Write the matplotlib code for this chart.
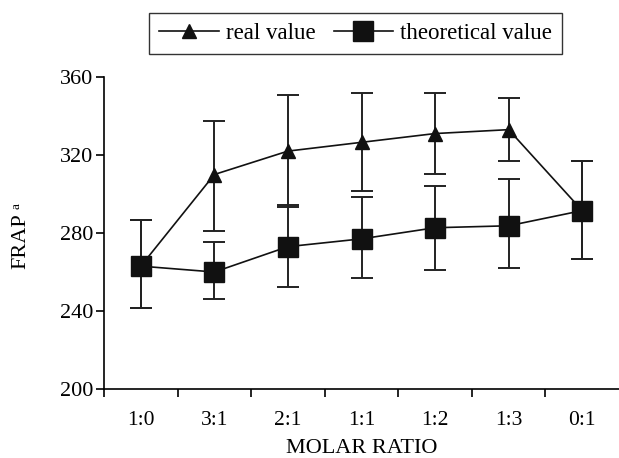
import matplotlib
matplotlib.use("Agg")
import matplotlib.pyplot as plt
import numpy as np

categories = ["1:0", "3:1", "2:1", "1:1", "1:2", "1:3", "0:1"]
real_value = [263, 310, 322, 326.5, 331, 333, 291.5]
real_upper = [286.5, 337.5, 351, 352, 352, 349, 317]
real_lower = [241.5, 281, 293.5, 301.5, 310.5, 317, 266.5]
theo_value = [263, 260, 273, 277, 282.7, 283.7, 291.5]
theo_upper = [286.5, 275.5, 294.5, 298.5, 304, 307.5, 317]
theo_lower = [241.5, 246, 252.5, 257, 261, 262.2, 266.5]
yticks = [200, 240, 280, 320, 360]

plt.rcParams['font.family'] = ['Liberation Serif', 'DejaVu Serif']
plt.rcParams['font.size'] = 16

fig = plt.figure(figsize=(6.19, 4.58), dpi=100)
ax = fig.add_axes([104/619, 69/458, 515/619, 312/458])

x = np.arange(len(categories))
rv = np.array(real_value); tv = np.array(theo_value)
real_err = [rv - np.array(real_lower), np.array(real_upper) - rv]
theo_err = [tv - np.array(theo_lower), np.array(theo_upper) - tv]

c = '#111111'
ax.errorbar(x, real_value, yerr=real_err, color=c, ecolor='#222222', elinewidth=1.4,
            capsize=8, capthick=1.4, lw=1.2, marker='^', ms=10, mfc=c, mec=c,
            label='real value', zorder=3)
ax.errorbar(x, theo_value, yerr=theo_err, color=c, ecolor='#222222', elinewidth=1.4,
            capsize=8, capthick=1.4, lw=1.2, marker='s', ms=14.5, mfc=c, mec=c,
            label='theoretical value', zorder=4)

ax.set_xlim(-0.5, len(categories) - 0.5)
ax.set_ylim(200, 360)
ax.set_yticks(yticks)
ax.set_xticks(x)
ax.set_xticklabels(categories, fontsize=15.5)
ax.set_xticks(np.arange(len(categories)) - 0.5, minor=True)
ax.tick_params(axis='x', which='major', length=0, pad=16)
ax.tick_params(axis='x', which='minor', length=6, width=1.2, direction='out')
ax.tick_params(axis='y', length=6, width=1.2, direction='out', pad=2)
for s in ['top', 'right']:
    ax.spines[s].set_visible(False)
for s in ['left', 'bottom']:
    ax.spines[s].set_linewidth(1.2)

ax.set_xlabel('MOLAR RATIO', labelpad=6)

# y label with small superscript
fig.text(21/619, 1 - 241/458, 'FRAP', rotation=90, ha='center', va='center', fontsize=16)
fig.text(17/619, 1 - 206/458, 'a', rotation=90, ha='center', va='center', fontsize=9.5)

handles, labels = ax.get_legend_handles_labels()
handles = [h[0] for h in handles]
leg = fig.legend(handles, labels, loc='center', bbox_to_anchor=(355.5/619, 1 - 33.5/458),
                 ncol=2, frameon=True, fancybox=False, edgecolor='black',
                 handlelength=2.6, columnspacing=0.8, handletextpad=0.3,
                 borderpad=0.45, fontsize=16.5)
leg.get_frame().set_linewidth(1.0)

fig.savefig('out.png', dpi=100)
